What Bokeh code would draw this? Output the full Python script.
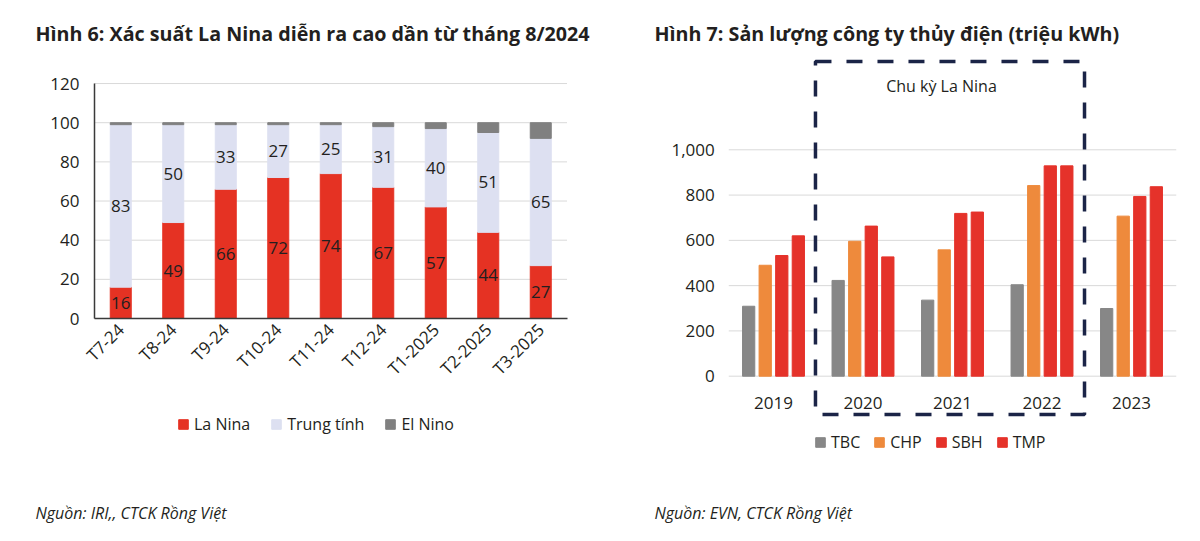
from math import pi
from bokeh.plotting import figure
from bokeh.models import (ColumnDataSource, Range1d, Legend, LegendItem, Label,
                          BoxAnnotation, FixedTicker, NumeralTickFormatter)
from bokeh.layouts import row
from bokeh.transform import dodge
from bokeh.core.properties import value
from bokeh.embed import file_html
from bokeh.resources import INLINE

# ---------------- data: left chart ----------------
months = ["T7-24", "T8-24", "T9-24", "T10-24", "T11-24", "T12-24", "T1-2025", "T2-2025", "T3-2025"]
la_nina = [16, 49, 66, 72, 74, 67, 57, 44, 27]
trung_tinh = [83, 50, 33, 27, 25, 31, 40, 51, 65]
el_nino = [1, 1, 1, 1, 1, 2, 3, 5, 8]
left_series = ["La Nina", "Trung tính", "El Nino"]
left_y_ticks = [0, 20, 40, 60, 80, 100, 120]

# ---------------- data: right chart ----------------
years = ["2019", "2020", "2021", "2022", "2023"]
tbc = [309, 423, 336, 404, 299]
chp = [490, 596, 558, 842, 707]
sbh = [533, 663, 719, 929, 794]
tmp = [620, 527, 725, 929, 837]
companies = ["TBC", "CHP", "SBH", "TMP"]
right_y_ticks = [0, 200, 400, 600, 800, 1000]

title_left = "Hình 6: Xác suất La Nina diễn ra cao dần từ tháng 8/2024"
title_right = "Hình 7: Sản lượng công ty thủy điện (triệu kWh)"
source_left = "Nguồn: IRI,, CTCK Rồng Việt"
source_right = "Nguồn: EVN, CTCK Rồng Việt"
cycle_label = "Chu kỳ La Nina"

FONT = "Open Sans"
TXT = "#231F20"
GRID = "#D9D9D9"
H = 541  # canvas height


def make_fig(w, x_range, y_range):
    p = figure(x_range=x_range, y_range=y_range, width=w, height=H,
               output_backend="svg", toolbar_location=None,
               min_border=0, min_border_left=0, min_border_right=0,
               min_border_top=0, min_border_bottom=0)
    p.outline_line_color = None
    p.xgrid.visible = False
    p.ygrid.visible = False
    for ax in (p.xaxis[0], p.yaxis[0]):
        ax.major_tick_line_color = None
        ax.minor_tick_line_color = None
        ax.major_tick_out = 0
        ax.major_tick_in = 0
        ax.major_label_text_font = FONT
        ax.major_label_text_color = TXT
    return p


# ---------------- left figure ----------------
W1 = 600
cat1_px, x0_px1 = 52.5, 120.25          # category pitch, canvas x of first category
zero_px1, unit_px1 = 318.0, 1.958        # canvas y of value 0, px per unit
idx1 = list(range(len(months)))
n1 = len(months)
xr1 = Range1d((0 - x0_px1) / cat1_px, (W1 - x0_px1) / cat1_px)
yr1 = Range1d((zero_px1 - H) / unit_px1, zero_px1 / unit_px1)

src1 = ColumnDataSource(dict(
    x=idx1, la=la_nina, tt=trung_tinh, en=el_nino,
    la_y=[v / 2 for v in la_nina],
    tt_y=[a + b / 2 for a, b in zip(la_nina, trung_tinh)],
    la_t=[str(v) for v in la_nina],
    tt_t=[str(v) for v in trung_tinh],
))

p1 = make_fig(W1, xr1, yr1)
p1.segment(x0=[-0.5] * len(left_y_ticks), x1=[n1 - 0.5] * len(left_y_ticks),
           y0=left_y_ticks, y1=left_y_ticks, line_color=GRID, line_width=1)
rs1 = p1.vbar_stack(["la", "tt", "en"], x="x", width=0.4, source=src1,
                    color=["#E53223", "#DDE0F1", "#808080"])
for col_y, col_t in (("la_y", "la_t"), ("tt_y", "tt_t")):
    p1.text(x="x", y=col_y, text=col_t, source=src1, text_font=value(FONT),
            text_font_size="17px", text_color=TXT, text_align="center", text_baseline="middle")

p1.yaxis.fixed_location = -0.5
p1.yaxis.bounds = (0, 120)
p1.yaxis.ticker = FixedTicker(ticks=left_y_ticks)
p1.yaxis.major_label_text_font_size = "17px"
p1.yaxis.major_label_standoff = 15
p1.yaxis.axis_line_color = "#3A3A3A"
p1.yaxis.axis_line_width = 1.5

p1.xaxis.fixed_location = 0
p1.xaxis.bounds = (-0.5, n1 - 0.5)
p1.xaxis.ticker = FixedTicker(ticks=idx1)
p1.xaxis.major_label_overrides = {i: m for i, m in zip(idx1, months)}
p1.xaxis.major_label_text_font_size = "17px"
p1.xaxis.major_label_orientation = pi / 4
p1.xaxis.major_label_standoff = 8
p1.xaxis.axis_line_color = "#3A3A3A"
p1.xaxis.axis_line_width = 1.5

leg1 = Legend(items=[LegendItem(label=n, renderers=[r]) for n, r in zip(left_series, rs1)],
              location=(177, 106), orientation="horizontal", padding=0, margin=0, spacing=20,
              label_standoff=5, glyph_width=12, glyph_height=12, label_height=20,
              label_text_font=FONT, label_text_font_size="16px", label_text_color=TXT,
              border_line_alpha=0, background_fill_alpha=0)
p1.add_layout(leg1)

p1.add_layout(Label(x=35, y=508, x_units="screen", y_units="screen", text=title_left,
                    text_font=FONT, text_font_style="bold", text_font_size="19.7px",
                    text_color=TXT, text_baseline="middle"))
p1.add_layout(Label(x=35, y=29, x_units="screen", y_units="screen", text=source_left,
                    text_font=FONT, text_font_style="italic", text_font_size="16px",
                    text_color=TXT, text_baseline="middle"))

# ---------------- right figure ----------------
W2 = 600
cat2_px, x0_px2 = 89.5, 173.0
zero_px2, unit_px2 = 375.7, 0.2264
idx2 = list(range(len(years)))
n2 = len(years)
xr2 = Range1d((0 - x0_px2) / cat2_px, (W2 - x0_px2) / cat2_px)
yr2 = Range1d((zero_px2 - H) / unit_px2, zero_px2 / unit_px2)

src2 = ColumnDataSource(dict(x=idx2, TBC=tbc, CHP=chp, SBH=sbh, TMP=tmp))

p2 = make_fig(W2, xr2, yr2)
p2.segment(x0=[-0.5] * len(right_y_ticks), x1=[n2 - 0.5] * len(right_y_ticks),
           y0=right_y_ticks, y1=right_y_ticks, line_color=GRID, line_width=1)

offsets = [-0.2775, -0.0925, 0.0925, 0.2775]
colors2 = ["#878787", "#EE8A3C", "#E5322A", "#E5322A"]
rs2 = []
for c, off, col in zip(companies, offsets, colors2):
    r = p2.vbar(x=dodge("x", off), top=c, width=0.137, source=src2,
                fill_color=col, line_color=col)
    rs2.append(r)

p2.yaxis.fixed_location = -0.5
p2.yaxis.bounds = (0, 1000)
p2.yaxis.ticker = FixedTicker(ticks=right_y_ticks)
p2.yaxis.formatter = NumeralTickFormatter(format="0,0")
p2.yaxis.axis_line_color = None
p2.yaxis.major_label_text_font_size = "17px"
p2.yaxis.major_label_standoff = 14

p2.xaxis.fixed_location = 0
p2.xaxis.ticker = FixedTicker(ticks=idx2)
p2.xaxis.major_label_overrides = {i: y for i, y in zip(idx2, years)}
p2.xaxis.axis_line_color = None
p2.xaxis.major_label_text_font_size = "17px"
p2.xaxis.major_label_standoff = 21

p2.add_layout(BoxAnnotation(left=0.469, right=3.475, top=1390, bottom=-169,
                            fill_alpha=0, line_color="#1B2447", line_alpha=1.0,
                            line_width=3.5, line_dash="16 15"))
p2.add_layout(Label(x=1.877, y=1284, text=cycle_label, text_align="center",
                    text_baseline="middle", text_font=FONT, text_font_size="16px",
                    text_color=TXT))

leg2 = Legend(items=[LegendItem(label=n, renderers=[r]) for n, r in zip(companies, rs2)],
              location=(214, 88), orientation="horizontal", padding=0, margin=0, spacing=13,
              label_standoff=5, glyph_width=12, glyph_height=12, label_height=20,
              label_text_font=FONT, label_text_font_size="16px", label_text_color=TXT,
              border_line_alpha=0, background_fill_alpha=0)
p2.add_layout(leg2)

p2.add_layout(Label(x=54, y=508, x_units="screen", y_units="screen", text=title_right,
                    text_font=FONT, text_font_style="bold", text_font_size="19.7px",
                    text_color=TXT, text_baseline="middle"))
p2.add_layout(Label(x=54, y=29, x_units="screen", y_units="screen", text=source_right,
                    text_font=FONT, text_font_style="italic", text_font_size="16px",
                    text_color=TXT, text_baseline="middle"))

layout = row(p1, p2)
open("out.html", "w").write(file_html(layout, INLINE))
